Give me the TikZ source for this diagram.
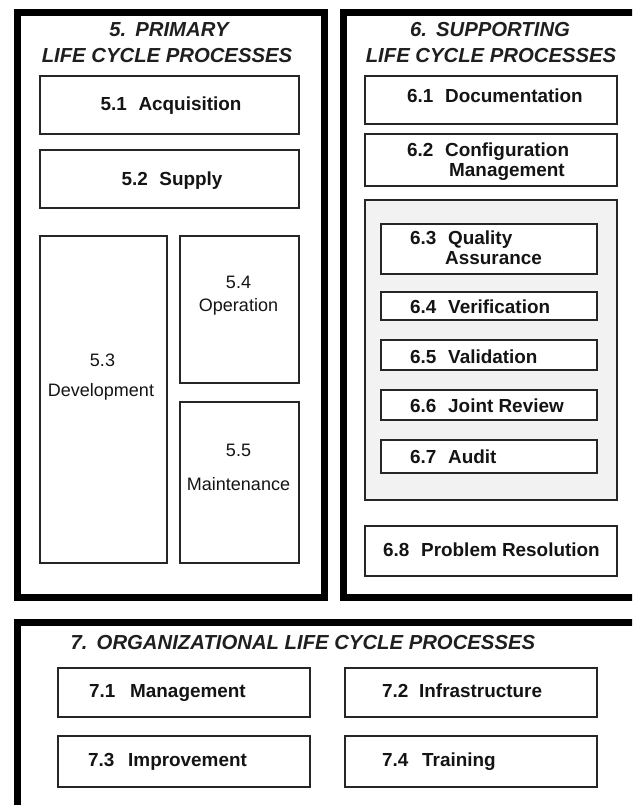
\documentclass[tikz,border=0pt]{standalone}
\usepackage{fontspec}
\setmainfont{Liberation Sans}
\begin{document}
\begin{tikzpicture}[x=1pt,y=-1pt,
  frame/.style={draw=black, line width=7pt, inner sep=0pt, anchor=north west},
  pbox/.style={draw=black!85, line width=1.6pt, fill=white, inner sep=0pt, anchor=north west},
  gbox/.style={pbox, fill=black!5},
  lbl/.style={font=\fontsize{18.9}{20}\selectfont\bfseries, text=black!92, inner sep=0pt, text height=13.5pt, text depth=0pt},
  rlbl/.style={font=\fontsize{18}{20}\selectfont, text=black!92, inner sep=0pt, text height=13pt, text depth=0pt},
  ttl/.style={font=\fontsize{20.3}{26}\selectfont\bfseries\itshape, text=black!88, inner sep=0pt, text height=14.5pt, text depth=0pt},
]
\useasboundingbox (0,0) rectangle (632,805);
\clip (0,0) rectangle (632,805);
\fill[white] (0,0) rectangle (632,805);
\newcommand\numw[1]{\makebox[38pt][l]{#1}}
% outer frames
\node[frame, minimum width=307pt, minimum height=584.5pt] (f5) at (13.5,9.5) {};
\node[frame, minimum width=300pt, minimum height=584.5pt] (f6) at (339.5,9.5) {};
\node[frame, minimum width=626.5pt, minimum height=186.5pt] (f7) at (13.5,618.5) {};
% titles
\node[ttl] (t5a) at (169,29) {5.\hspace{0.45em}PRIMARY};
\node[ttl] (t5b) at (167,55) {LIFE CYCLE PROCESSES};
\node[ttl] (t6a) at (490,29) {6.\hspace{0.45em}SUPPORTING};
\node[ttl] (t6b) at (491,55) {LIFE CYCLE PROCESSES};
\node[ttl, anchor=west] (t7) at (70.5,642) {7.\hspace{0.45em}ORGANIZATIONAL LIFE CYCLE PROCESSES};
% primary
\node[pbox, minimum width=259pt, minimum height=58pt] (b51) at (39,75) {};
\node[pbox, minimum width=259pt, minimum height=58pt] (b52) at (39,149) {};
\node[pbox, minimum width=127pt, minimum height=327pt] (b53) at (39,235) {};
\node[pbox, minimum width=119pt, minimum height=147pt] (b54) at (179,235) {};
\node[pbox, minimum width=119pt, minimum height=161pt] (b55) at (179,401) {};
\node[lbl] (l51) at (171,103.5) {\numw{5.1}Acquisition};
\node[lbl] (l52) at (172,178.5) {\numw{5.2}Supply};
\node[rlbl] (l53a) at (102.5,360) {5.3};
\node[rlbl] (l53b) at (101,390) {Development};
\node[rlbl] (l54a) at (238.5,282) {5.4};
\node[rlbl] (l54b) at (238.5,305) {Operation};
\node[rlbl] (l55a) at (238.5,450) {5.5};
\node[rlbl] (l55b) at (238.5,484) {Maintenance};
% supporting
\node[pbox, minimum width=252pt, minimum height=48pt] (b61) at (364,75) {};
\node[pbox, minimum width=252pt, minimum height=52pt] (b62) at (364,133) {};
\node[gbox, minimum width=252pt, minimum height=300pt] (grp) at (364,199) {};
\node[pbox, minimum width=216pt, minimum height=50pt] (b63) at (380,223) {};
\node[pbox, minimum width=216pt, minimum height=28pt] (b64) at (380,291) {};
\node[pbox, minimum width=216pt, minimum height=30pt] (b65) at (380,339) {};
\node[pbox, minimum width=216pt, minimum height=30pt] (b66) at (380,389) {};
\node[pbox, minimum width=216pt, minimum height=33pt] (b67) at (380,439) {};
\node[pbox, minimum width=252pt, minimum height=50pt] (b68) at (364,525) {};
\node[lbl, anchor=west] (l61) at (407,96) {\numw{6.1}Documentation};
\node[lbl, anchor=west] (l62a) at (407,150) {\numw{6.2}Configuration};
\node[lbl, anchor=west] (l62b) at (449,170) {Management};
\node[lbl, anchor=west] (l63a) at (410,238) {\numw{6.3}Quality};
\node[lbl, anchor=west] (l63b) at (445,258) {Assurance};
\node[lbl, anchor=west] (l64) at (410,307) {\numw{6.4}Verification};
\node[lbl, anchor=west] (l65) at (410,357) {\numw{6.5}Validation};
\node[lbl, anchor=west] (l66) at (410,406) {\numw{6.6}Joint Review};
\node[lbl, anchor=west] (l67) at (410,456.5) {\numw{6.7}Audit};
\node[lbl, anchor=west] (l68) at (383,549.5) {\numw{6.8}Problem Resolution};
% organizational
\node[pbox, minimum width=252pt, minimum height=49pt] (b71) at (57,667) {};
\node[pbox, minimum width=252pt, minimum height=49pt] (b72) at (344,667) {};
\node[pbox, minimum width=252pt, minimum height=51pt] (b73) at (57,735) {};
\node[pbox, minimum width=252pt, minimum height=51pt] (b74) at (344,735) {};
\node[lbl, anchor=west] (l71) at (89,691) {\makebox[41pt][l]{7.1}Management};
\node[lbl, anchor=west] (l72) at (382,691) {\makebox[37pt][l]{7.2}Infrastructure};
\node[lbl, anchor=west] (l73) at (88,760) {\makebox[40pt][l]{7.3}Improvement};
\node[lbl, anchor=west] (l74) at (382,760) {\makebox[40pt][l]{7.4}Training};
\end{tikzpicture}
\end{document}
